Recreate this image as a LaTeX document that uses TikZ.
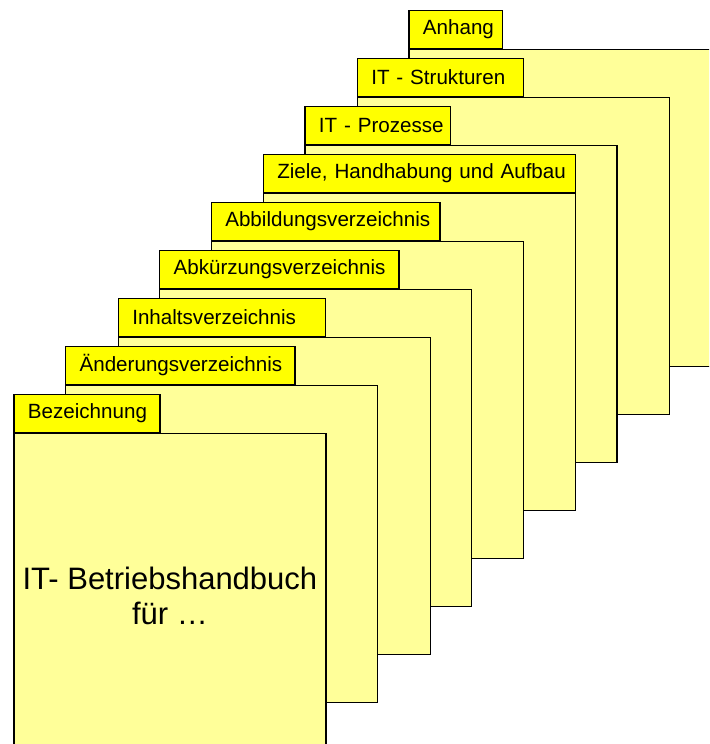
\documentclass[tikz,border=0pt]{standalone}
\usepackage{fontspec}
\setmainfont{Liberation Sans}
\usetikzlibrary{positioning}
\definecolor{tabYellow}{RGB}{255,255,0}
\definecolor{pageYellow}{RGB}{255,255,153}

\begin{document}
\begin{tikzpicture}[x=0.5pt,y=-0.5pt,
    page/.style={draw=black,line width=0.6pt,fill=pageYellow,anchor=north west,
                 minimum width=156pt,minimum height=158.5pt,inner sep=0pt},
    tab/.style={draw=black,line width=0.6pt,fill=tabYellow,anchor=south west,
                font=\fontsize{10.3}{12}\selectfont,minimum height=19pt,
                inner xsep=7pt,inner ysep=0pt,align=left}]
  \useasboundingbox (0,0) rectangle (709,744);
  \clip (0,0) rectangle (709,744);
  % pages from back to front, tab widths in px
  \foreach \i/\x/\w/\t in {8/408.3/93.4/Anhang,7/356.7/166/IT - Strukturen,
      6/304.3/145.7/IT - Prozesse,5/262.7/312.3/{Ziele, Handhabung und Aufbau},
      4/210.7/228.6/Abbildungsverzeichnis,3/159/239.3/Abkürzungsverzeichnis,
      2/117.7/207.3/Inhaltsverzeichnis,1/65/229.3/Änderungsverzeichnis,
      0/13.3/146/Bezeichnung}{
    \node[page] (body\i) at ({\x},{433-48*\i}) {};
    \node[tab,text width={(\w-28)/2*1pt}] (tab\i) at (body\i.north west)
      {\mbox{\t}};
  }
  \node[font=\fontsize{15.5}{17.25}\selectfont,align=center] (title)
    at ([yshift=-2pt]body0.center) {IT- Betriebshandbuch\\für …};
\end{tikzpicture}
\end{document}
